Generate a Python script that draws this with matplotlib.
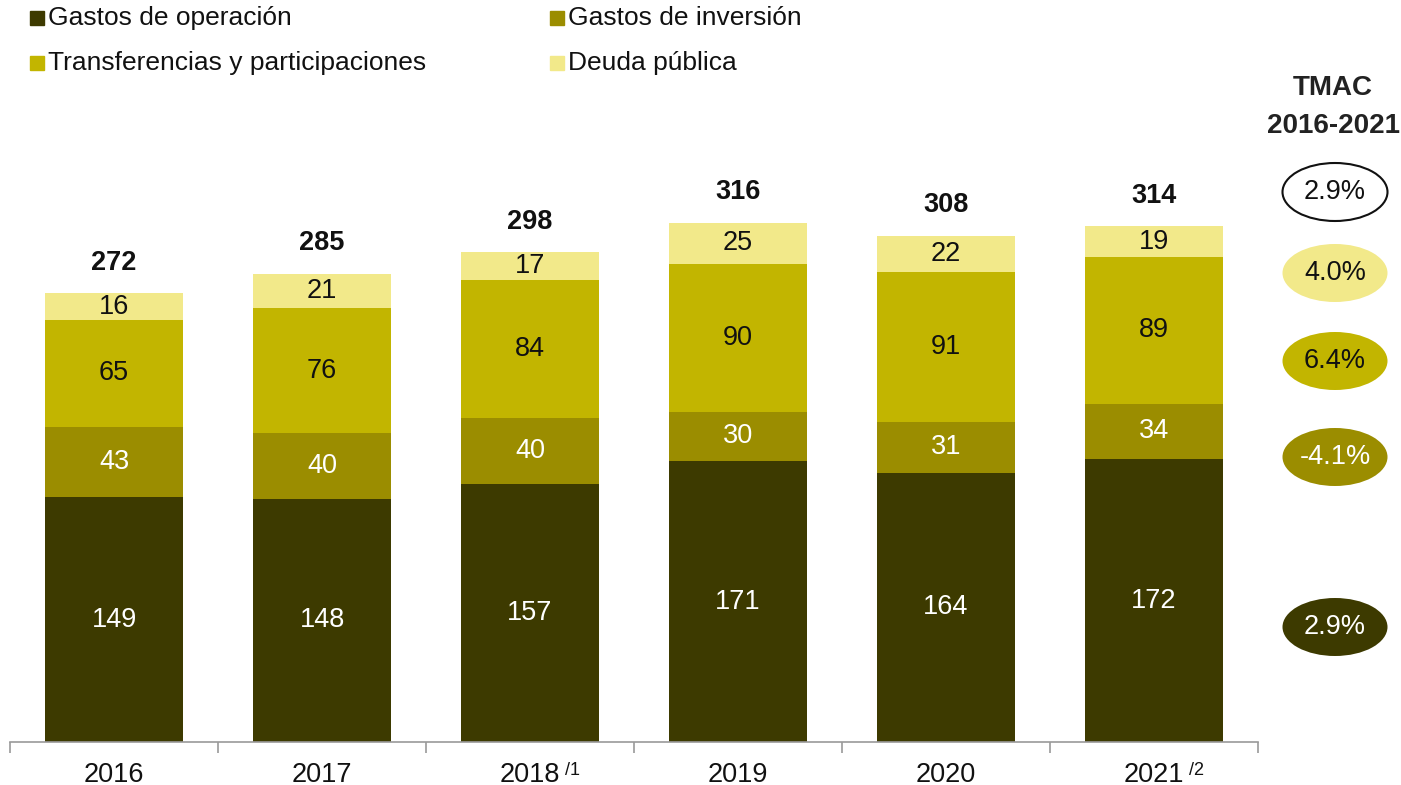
import matplotlib
matplotlib.use("Agg")
import matplotlib.pyplot as plt
from matplotlib.patches import Ellipse, Rectangle

plt.rcParams['font.family'] = ['Liberation Sans', 'DejaVu Sans']

years = ["2016", "2017", "2018", "2019", "2020", "2021"]
year_notes = ["", "", "/1", "", "", "/2"]
series_names = ["Gastos de operación", "Gastos de inversión",
                "Transferencias y participaciones", "Deuda pública"]
operacion = [149, 148, 157, 171, 164, 172]
inversion = [43, 40, 40, 30, 31, 34]
transferencias = [65, 76, 84, 90, 91, 89]
deuda = [16, 21, 17, 25, 22, 19]
totals = [272, 285, 298, 316, 308, 314]
tmac_labels = ["2.9%", "4.0%", "6.4%", "-4.1%", "2.9%"]

colors = ["#3d3a00", "#9b8d00", "#c2b500", "#f2e98a"]
text_colors = ["white", "white", "#111111", "#111111"]

FS = 19.5
W, H = 1401, 785
fig = plt.figure(figsize=(W / 100, H / 100), dpi=100)
ax_left, ax_right, ax_bottom = 10, 1258, 742
scale = 1.643
ymax = 390
ax_top = ax_bottom - ymax * scale
ax = fig.add_axes([ax_left / W, 1 - ax_bottom / H, (ax_right - ax_left) / W,
                   (ax_bottom - ax_top) / H])
ax.set_xlim(-0.5, 5.5)
ax.set_ylim(0, ymax)

x = list(range(len(years)))
series = [operacion, inversion, transferencias, deuda]
bottom = [0] * len(years)
for vals, c, tc in zip(series, colors, text_colors):
    ax.bar(x, vals, bottom=bottom, width=0.665, color=c, edgecolor="none")
    for i, v in enumerate(vals):
        ax.text(x[i], bottom[i] + v / 2, str(v), ha="center", va="center",
                fontsize=FS, color=tc)
    bottom = [b + v for b, v in zip(bottom, vals)]

for i, t in enumerate(totals):
    ax.annotate(str(t), (x[i], bottom[i]), xytext=(0, 22), textcoords="offset points",
                ha="center", va="center", fontsize=FS, fontweight="bold", color="#111111")

for s in ["top", "right", "left"]:
    ax.spines[s].set_visible(False)
ax.spines["bottom"].set_color("#9a9a9a")
ax.spines["bottom"].set_linewidth(1.2)
ax.set_yticks([])
ax.set_xticks(x)
ax.set_xticklabels([])
ax.tick_params(axis="x", which="major", length=0)
ax.set_xticks([i - 0.5 for i in range(len(years) + 1)], minor=True)
ax.tick_params(axis="x", which="minor", length=8, color="#9a9a9a", width=1.2)

for i, (yr, note) in enumerate(zip(years, year_notes)):
    ax.annotate(yr, (x[i], 0), xytext=(0, -23.5), textcoords="offset points",
                ha="center", va="center", fontsize=FS, color="#111111")
    if note:
        ax.annotate(note, (x[i], 0), xytext=(25.5, -20.5), textcoords="offset points",
                    ha="left", va="center", fontsize=13, color="#111111")

# Legend (manual)
leg_pos = [(30, 18), (550, 18), (30, 63), (550, 63)]
for (lx, ly), name, c in zip(leg_pos, series_names, colors):
    fig.patches.append(Rectangle((lx / W, 1 - (ly + 7) / H), 14 / W, 14 / H,
                                 transform=fig.transFigure, color=c))
    fig.text((lx + 18) / W, 1 - ly / H, name, ha="left", va="center",
             fontsize=19, color="#111111")

# TMAC column
fig.text(1333 / W, 1 - 88 / H, "TMAC", ha="center", va="center", fontsize=20,
         fontweight="bold", color="#222222")
fig.text(1333 / W, 1 - 126 / H, "2016-2021", ha="center", va="center", fontsize=20,
         fontweight="bold", color="#222222")
ell_y = [192, 273, 361, 457, 627]
ell_face = ["white", colors[3], colors[2], colors[1], colors[0]]
ell_edge = ["#111111", "none", "none", "none", "none"]
ell_tc = ["#111111", "#111111", "#111111", "white", "white"]
for ey, lab, fc, ec, tc in zip(ell_y, tmac_labels, ell_face, ell_edge, ell_tc):
    e = Ellipse((1335 / W, 1 - ey / H), 105 / W, 58 / H, transform=fig.transFigure,
                facecolor=fc, edgecolor=ec, linewidth=1.5)
    fig.patches.append(e)
    fig.text(1335 / W, 1 - ey / H, lab, ha="center", va="center", fontsize=FS, color=tc)

fig.savefig("out.png", dpi=100)
